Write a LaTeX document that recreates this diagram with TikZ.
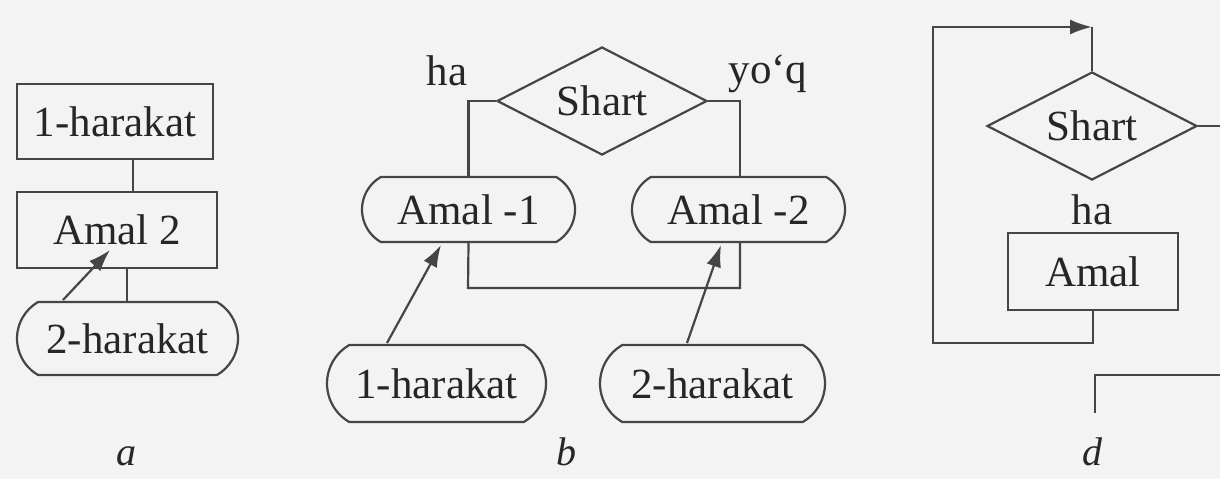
\documentclass[tikz,border=0pt]{standalone}
\usepackage{fontspec}
\setmainfont{Liberation Serif}
\usetikzlibrary{shapes.geometric,shapes.misc,arrows.meta,calc}
\definecolor{ink}{HTML}{262626}
\definecolor{lin}{HTML}{454545}
\definecolor{paper}{HTML}{F3F3F3}
\tikzset{
  base/.style={draw=lin,line width=2.2pt,text=ink,inner sep=0pt,font=\fontsize{43}{48}\selectfont},
  boxnode/.style={base,rectangle},
  pill/.style={base,rounded rectangle,rounded rectangle arc length=120},
  cond/.style={base,diamond,aspect=1.94},
  lbl/.style={text=ink,inner sep=0pt,font=\fontsize{43}{48}\selectfont},
  figcap/.style={text=ink,inner sep=0pt,font=\fontsize{40}{44}\selectfont\itshape},
  wire/.style={draw=lin,line width=2.2pt},
  arr/.style={wire,-{Latex[length=22pt,width=15pt]}}
}
\begin{document}
\begin{tikzpicture}[x=1pt,y=-1pt]
\useasboundingbox (0,0) rectangle (1220,479);
\fill[paper] (0,0) rectangle (1220,479);
% ---------- a ----------
\node[boxnode,minimum width=196pt,minimum height=75pt] (a1) at (115,121.5) {1-harakat};
\node[boxnode,minimum width=200pt,minimum height=76pt] (a2) at (117,230) {Amal 2};
\node[pill,minimum width=221pt,minimum height=73pt] (a3) at (127.5,338.5) {2-harakat};
\draw[wire] ([xshift=18pt]a1.south) -- ([xshift=18pt]a1.south |- a2.north);
\draw[wire] ([xshift=10pt]a2.south) -- ([xshift=10pt]a2.south |- a3.north);
\coordinate (a3s) at (63,300);
\coordinate (a2t) at (110,250);
\draw[arr] (a3s) -- (a2t);
\node[figcap] (la) at (126,456) {a};
% ---------- b ----------
\node[cond,minimum width=210pt,minimum height=108pt] (bd) at (602,101) {Shart};
\node[lbl] (bha) at (447,71) {ha};
\node[lbl] (byq) at (768,74) {yo‘q};
\node[pill,minimum width=213pt,minimum height=65pt] (b1) at (468.5,209.5) {Amal -1};
\node[pill,minimum width=213pt,minimum height=65pt] (b2) at (738.5,209.5) {Amal -2};
\node[pill,minimum width=219pt,minimum height=77pt] (b3) at (436.5,383.5) {1-harakat};
\node[pill,minimum width=225pt,minimum height=77pt] (b4) at (712.5,383.5) {2-harakat};
\coordinate (bj) at (468,288);
\draw[wire] (bd.west) -| (b1.north);
\draw[wire] (bd.east) -| ([xshift=1.5pt]b2.north);
\draw[wire] (b1.south) -- (bj) -| ([xshift=1.5pt]b2.south);
\coordinate (b3t) at (387,343);
\coordinate (b1b) at (441,245);
\coordinate (b4t) at (687,343);
\coordinate (b2b) at (721,245);
\draw[arr] (b3t) -- (b1b);
\draw[arr] (b4t) -- (b2b);
\node[figcap] (lb) at (566,452) {b};
% ---------- d ----------
\node[cond,minimum width=210pt,minimum height=108pt] (dd) at (1092,126) {Shart};
\node[lbl] (dha) at (1092,210) {ha};
\node[boxnode,minimum width=170pt,minimum height=77pt] (da) at (1093,271.5) {Amal};
\coordinate (dbr) at (1093,343);
\coordinate (dbl) at (933,343);
\coordinate (dtl) at (933,27);
\coordinate (dtr) at (1092,27);
\coordinate (dout) at (1220,126);
\coordinate (dx1) at (1220,375);
\coordinate (dx2) at (1095,375);
\coordinate (dx3) at (1095,413);
\draw[arr] (da.south) -- (dbr) -- (dbl) -- (dtl) -- (dtr);
\draw[wire] (dtr) -- (dd.north);
\draw[wire] (dd.east) -- (dout);
\draw[wire] (dx1) -- (dx2) -- (dx3);
\node[figcap] (ld) at (1092,452) {d};
\end{tikzpicture}
\end{document}
